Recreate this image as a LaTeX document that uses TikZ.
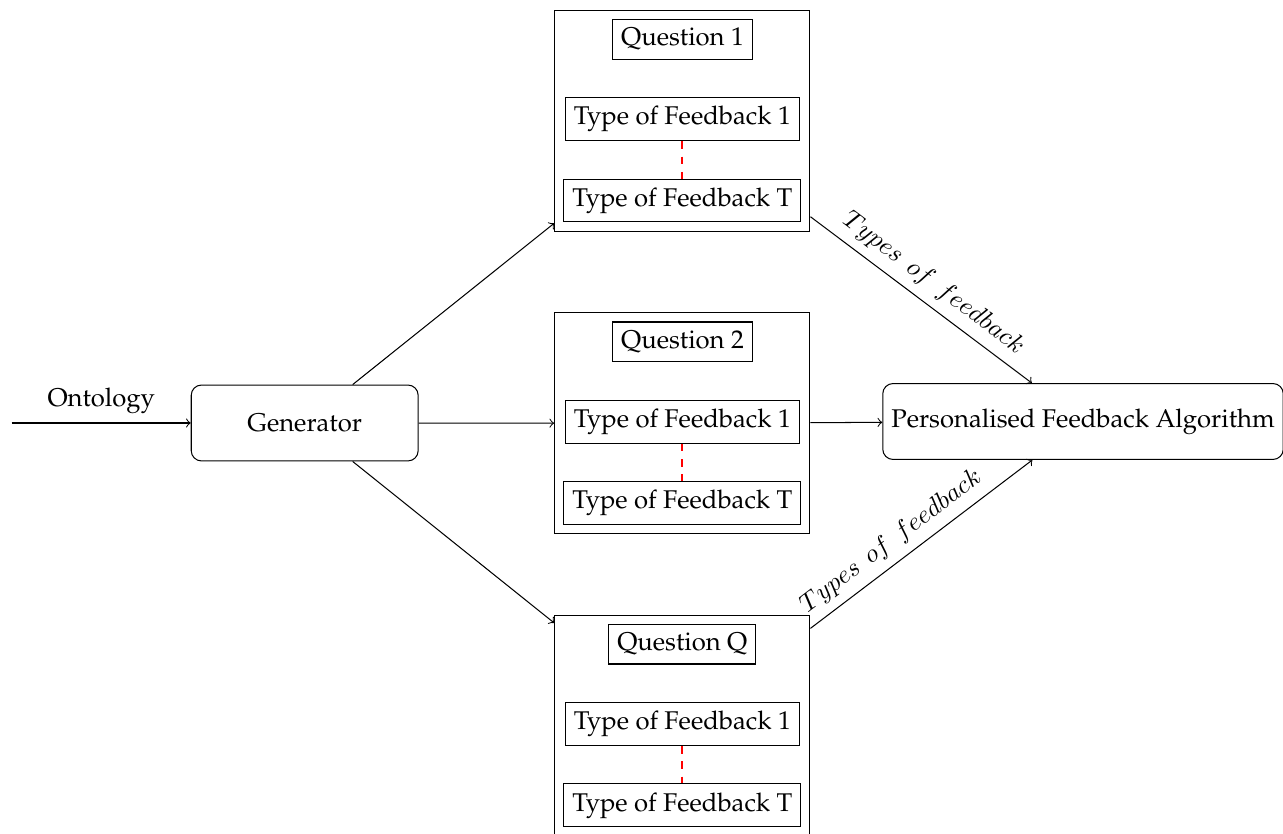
\documentclass[tikz,border=0pt]{standalone}
\usepackage[T1]{fontenc}
\usepackage{palatino}
\usetikzlibrary{fit}
\begin{document}
\begin{tikzpicture}[x=0.39pt,y=-0.39pt,
  tbox/.style={draw, inner sep=3.333pt},
  outerbox/.style={draw, inner sep=3.35pt},
  rbox/.style={draw, rounded corners=4pt, minimum height=29.6pt, inner sep=3.333pt},
  arr/.style={->},
  link/.style={red, dashed, thick},
  lab/.style={above, sloped}
]
\useasboundingbox (0,0) rectangle (1283,834);

% Generator and algorithm
\node[rbox, minimum width=88.5pt] (gen) at (304.7,423) {Generator};
\node[rbox] (pfa) at (1083,421.5) {Personalised Feedback Algorithm};
\coordinate (ostart) at (11.7,423);

% Question 1
\node[tbox] (q1) at (682.5,39.3) {Question 1};
\node[tbox] (q1a) at (682.3,119.2) {Type of Feedback 1};
\node[tbox] (q1b) at (682.3,200.5) {Type of Feedback T};
\node[outerbox, fit=(q1)(q1a)(q1b)] (box1) {};
\draw[link] (q1a) -- (q1b);

% Question 2
\node[tbox] (q2) at (682.5,341.8) {Question 2};
\node[tbox] (q2a) at (682.3,421.7) {Type of Feedback 1};
\node[tbox] (q2b) at (682.3,503) {Type of Feedback T};
\node[outerbox, fit=(q2)(q2a)(q2b)] (box2) {};
\draw[link] (q2a) -- (q2b);

% Question Q
\node[tbox] (qq) at (682.3,644.2) {Question Q};
\node[tbox] (qqa) at (682.3,723.9) {Type of Feedback 1};
\node[tbox] (qqb) at (682.3,805.4) {Type of Feedback T};
\node[outerbox, fit=(qq)(qqa)(qqb)] (boxq) {};
\draw[link] (qqa) -- (qqb);

% connectors
\draw[arr] (ostart) -- node[above] {Ontology} (gen);
\draw[arr] (gen) -- (box1);
\draw[arr] (gen) -- (box2);
\draw[arr] (gen) -- (boxq);
\draw[arr] (box1) -- node[lab] {$Types\ \,of\ \,feedback$} (pfa);
\draw[arr] (box2) -- (pfa);
\draw[arr] (boxq) -- node[lab, pos=0.42] {$Types\ \,of\ \,feedback$} (pfa);
\end{tikzpicture}
\end{document}
